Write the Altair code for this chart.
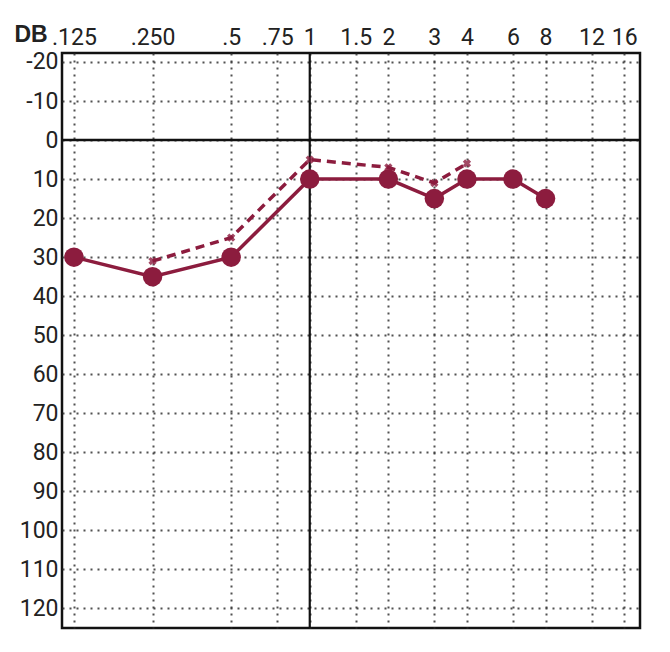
import altair as alt
import pandas as pd

# ---- data ----
freq_ticks = [0.125, 0.25, 0.5, 0.75, 1, 1.5, 2, 3, 4, 6, 8, 12, 16]
freq_labels = [".125", ".250", ".5", ".75", "1", "1.5", "2", "3", "4", "6", "8", "12", "16"]
db_ticks = [-20, -10, 0, 10, 20, 30, 40, 50, 60, 70, 80, 90, 100, 110, 120]

solid_freq = [0.125, 0.25, 0.5, 1, 2, 3, 4, 6, 8]
solid_db = [30, 35, 30, 10, 10, 15, 10, 10, 15]

dash_freq = [0.25, 0.5, 1, 2, 3, 4]
dash_db = [31, 25, 5, 7, 11, 6]

COLOR = "#8c1c3e"
FONT = "Roboto"

solid_df = pd.DataFrame({"f": solid_freq, "db": solid_db})
dash_df = pd.DataFrame({"f": dash_freq, "db": dash_db})

label_expr = "".join(
    f"datum.value == {v} ? '{l}' : " for v, l in zip(freq_ticks, freq_labels)
) + "''"

xscale = alt.Scale(type="log", domain=[0.1125, 18.4], nice=False)
yscale = alt.Scale(domain=[-22.3, 125], reverse=True, nice=False, zero=False)

xaxis = alt.Axis(orient="top", values=freq_ticks, labelExpr=label_expr, title=None,
                 domain=False, ticks=False, labelPadding=4, labelFontSize=23,
                 labelFont=FONT, labelColor="#222", grid=True, gridDash=[2, 5],
                 gridColor="#333", gridWidth=2, gridOpacity=0.85, labelFlush=False)
yaxis = alt.Axis(orient="left", values=db_ticks, labelExpr="'' + datum.value", title=None,
                 domain=False, ticks=False,
                 labelPadding=4, labelFontSize=23, labelFont=FONT, labelColor="#222",
                 grid=True, gridDash=[2, 5], gridColor="#333", gridWidth=2, gridOpacity=0.85)


def X():
    return alt.X("f:Q", scale=xscale, axis=xaxis)


def Y():
    return alt.Y("db:Q", scale=yscale, axis=yaxis)


rule_v = alt.Chart(pd.DataFrame({"f": [1]})).mark_rule(color="#111", strokeWidth=2.2).encode(x=X())
rule_h = alt.Chart(pd.DataFrame({"db": [0]})).mark_rule(color="#111", strokeWidth=2.5).encode(y=Y())

dash_line = alt.Chart(dash_df).mark_line(color=COLOR, strokeWidth=3.5, strokeDash=[9, 6]).encode(x=X(), y=Y())
dash_pts = alt.Chart(dash_df).mark_point(shape="cross", angle=45, size=70, filled=True,
                                          color=COLOR, opacity=0.8).encode(x=X(), y=Y())

solid_line = alt.Chart(solid_df).mark_line(color=COLOR, strokeWidth=3.5).encode(x=X(), y=Y())
solid_pts = alt.Chart(solid_df).mark_point(shape="circle", size=380, filled=True,
                                           color=COLOR, opacity=1).encode(x=X(), y=Y())

db_text = alt.Chart(pd.DataFrame({"t": ["DB"]})).mark_text(
    font="Liberation Sans", fontWeight="bold", fontSize=23, color="#222",
    align="center", baseline="middle").encode(
    text="t:N", x=alt.value(-31), y=alt.value(-18))

chart = alt.layer(rule_v, rule_h, dash_line, dash_pts, solid_line, solid_pts, db_text).properties(
    width=578, height=575,
    autosize=alt.AutoSizeParams(type="none"),
    padding={"left": 54, "top": 45, "right": 20, "bottom": 14},
    background="white",
).configure_view(stroke="#111", strokeWidth=2.5)

chart.save("out.html", embed_options={"renderer": "svg", "actions": False})
